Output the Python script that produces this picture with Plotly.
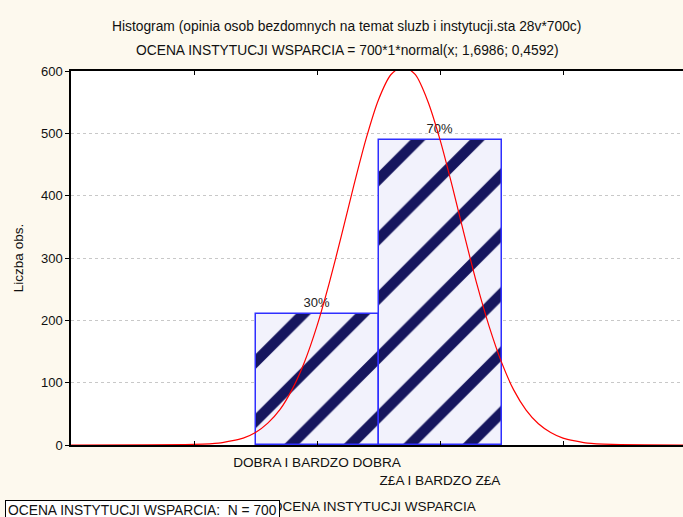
import plotly.graph_objects as go

# ---- data ----
categories = ["DOBRA I BARDZO DOBRA", "Z£A I BARDZO Z£A"]
cat_pos = [1, 2]
counts = [210, 490]
percent_labels = ["30%", "70%"]

curve_x = [-1.0, 0.0, 0.2, 0.4, 0.5, 0.6, 0.7, 0.8, 0.9, 1.0, 1.1, 1.2, 1.3, 1.4, 1.5,
           1.6, 1.7, 1.8, 1.9, 2.0, 2.1, 2.2, 2.3, 2.4, 2.5, 2.6, 2.7, 2.8, 2.9, 3.0,
           3.2, 3.4, 4.0]
curve_y = [0, 1, 3, 11, 20, 35, 57, 90, 134, 191, 260, 337, 417, 492, 554,
           594, 608, 594, 552, 490, 415, 335, 258, 190, 133, 88, 56, 34, 20, 11,
           3, 1, 0]

title_1 = "Histogram (opinia osob bezdomnych na temat sluzb i instytucji.sta 28v*700c)"
title_2 = "OCENA INSTYTUCJI WSPARCIA = 700*1*normal(x; 1,6986; 0,4592)"
x_title = "OCENA INSTYTUCJI WSPARCIA"
y_title = "Liczba obs."
box_text = "OCENA INSTYTUCJI WSPARCIA:  N = 700"

FONT = "Liberation Sans, Arial, sans-serif"
FS = 13.8

L, R, T, B = 71, 0, 71, 72
W, H = 683, 517
plot_w = W - L - R
plot_h = H - T - B


def px_x(px):
    return (px - L) / plot_w


def px_y(py):
    return (H - B - py) / plot_h


fig = go.Figure()
fig.add_trace(go.Bar(
    x=cat_pos, y=counts, width=1.0,
    text=percent_labels, textposition="outside",
    textfont=dict(family=FONT, size=13, color="#222"),
    cliponaxis=False,
    marker=dict(
        color="#f2f2fc",
        line=dict(color="#2f2fff", width=1.5),
        pattern=dict(shape="/", fgcolor="#16165e", bgcolor="#f2f2fc",
                     fgopacity=1, size=42, solidity=0.25, fillmode="overlay"),
    ),
    showlegend=False,
))
fig.add_trace(go.Scatter(
    x=curve_x, y=curve_y, mode="lines",
    line=dict(color="#ff0000", width=1.2, shape="spline", smoothing=0.6),
    showlegend=False,
))

fig.update_layout(
    width=W, height=H,
    margin=dict(l=L, r=R, t=T, b=B),
    paper_bgcolor="#fdf9ee", plot_bgcolor="#ffffff",
    font=dict(family=FONT, size=FS, color="#111"),
    bargap=0,
    annotations=[
        dict(text=title_1, x=px_x(346), y=px_y(27), xref="paper", yref="paper",
             yanchor="middle", showarrow=False, font=dict(family=FONT, size=FS)),
        dict(text=title_2, x=px_x(347), y=px_y(50), xref="paper", yref="paper",
             yanchor="middle", showarrow=False, font=dict(family=FONT, size=FS)),
        dict(text=x_title, x=px_x(374), y=px_y(506), xref="paper", yref="paper",
             yanchor="middle", showarrow=False, font=dict(family=FONT, size=13.5)),
        dict(text=box_text, x=px_x(5), y=px_y(500), xref="paper", yref="paper",
             xanchor="left", yanchor="top", showarrow=False,
             bgcolor="#ffffff", bordercolor="#000000", borderwidth=1, borderpad=2,
             font=dict(family=FONT, size=FS)),
    ],
)

fig.update_xaxes(
    range=[-1, -1 + plot_w / 123.0],
    tickvals=[0, 1, 2, 3],
    ticktext=["", categories[0], "<br>" + categories[1], ""],
    tickangle=0, automargin=False, ticklabelstandoff=4,
    ticks="inside", ticklen=4, tickcolor="#000",
    showline=True, linecolor="#000", linewidth=1.5, mirror="ticks",
    showgrid=False, zeroline=False,
    tickfont=dict(family=FONT, size=13.6),
)
fig.update_yaxes(
    range=[0, 600],
    tickvals=[0, 100, 200, 300, 400, 500, 600],
    automargin=False,
    ticks="outside", ticklen=4, tickcolor="#000",
    showline=True, linecolor="#000", linewidth=1.5,
    showgrid=True, gridcolor="#c8c8c8", griddash="dot", gridwidth=1,
    zeroline=False,
    title=dict(text=y_title, font=dict(family=FONT, size=13.5), standoff=14),
    tickfont=dict(family=FONT, size=13),
)

fig.write_html(
    "out.html",
    config={"displayModeBar": False},
    post_script="document.body.style.margin='0';document.body.style.background='#fdf9ee';",
)
